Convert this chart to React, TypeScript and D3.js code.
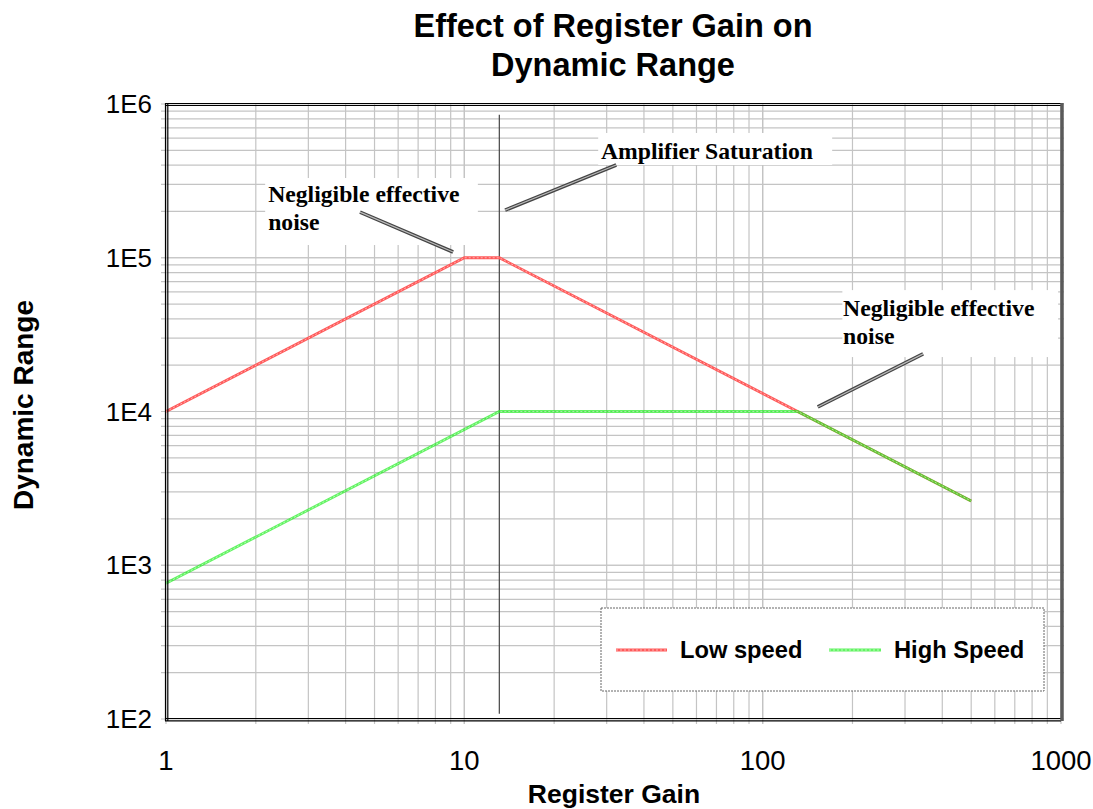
import React from "react";
import * as d3 from "d3";

const W = 1093;
const H = 809;

// Data
const lowSpeedGain = [1, 10, 13.1, 131, 500];
const lowSpeedRange = [10000, 100000, 100000, 10000, 2620];
const highSpeedGain = [1, 13.1, 131, 500];
const highSpeedRange = [763, 10000, 10000, 2620];
const xTickValues = [1, 10, 100, 1000];
const xTickLabels = ["1", "10", "100", "1000"];
const yTickValues = [100, 1000, 10000, 100000, 1000000];
const yTickLabels = ["1E2", "1E3", "1E4", "1E5", "1E6"];
const saturationGain = 13.1;

// Annotations (data coordinates)
const annotationTexts = [
  { lines: ["Negligible effective", "noise"], x: 2.2, y: 230000 },
  { lines: ["Amplifier Saturation"], x: 28.7, y: 439000 },
  { lines: ["Negligible effective", "noise"], x: 186, y: 41800 },
];
const annotationBoxes = [
  { x0: 2.15, x1: 11.1, y0: 330000, y1: 121000 },
  { x0: 28.1, x1: 171, y0: 648000, y1: 401000 },
  { x0: 185, x1: 978, y0: 61600, y1: 22600 },
];
const leaders = [
  { x0: 4.47, y0: 198000, x1: 9.17, y1: 109000 },
  { x0: 13.7, y0: 204000, x1: 32.3, y1: 401000 },
  { x0: 153, y0: 10700, x1: 345, y1: 23700 },
];

const margin = { left: 166, right: W - 1061, top: 104, bottom: H - 719 };

export default function App() {
  const x = d3.scaleLog().domain([1, 1000]).range([margin.left, W - margin.right]);
  const y = d3.scaleLog().domain([100, 1000000]).range([H - margin.bottom, margin.top]);
  const x0 = margin.left;
  const x1 = W - margin.right;
  const y0 = H - margin.bottom;
  const y1 = margin.top;

  const xMinor: number[] = [];
  for (let d = 1; d < 1000; d *= 10) for (let k = 1; k <= 10; k++) xMinor.push(d * k);
  const yMinor: number[] = [];
  for (let d = 100; d < 1000000; d *= 10) for (let k = 1; k <= 10; k++) yMinor.push(d * k);

  const line = d3
    .line<[number, number]>()
    .x((d) => x(d[0]))
    .y((d) => y(d[1]));
  const lowPts = lowSpeedGain.map((g, i) => [g, lowSpeedRange[i]] as [number, number]);
  const highPts = highSpeedGain.map((g, i) => [g, highSpeedRange[i]] as [number, number]);

  const sans = "Arial, 'Liberation Sans', sans-serif";
  const serif = "'Times New Roman', 'Liberation Serif', serif";

  return (
    <svg width={W} height={H} style={{ display: "block", position: "absolute", left: 0, top: 0 }}>
      <rect x={0} y={0} width={W} height={H} fill="#fff" />
      {/* Title */}
      <text x={613} y={37} textAnchor="middle" fontFamily={sans} fontWeight="bold" fontSize={32.5}>
        Effect of Register Gain on
      </text>
      <text x={613} y={76} textAnchor="middle" fontFamily={sans} fontWeight="bold" fontSize={32.5}>
        Dynamic Range
      </text>
      {/* Grid */}
      {xMinor.map((v, i) => (
        <line key={"gx" + i} x1={x(v)} x2={x(v)} y1={y1} y2={y0 + 5} stroke="#c4c4c4" strokeWidth={1.2} />
      ))}
      {yMinor.map((v, i) => (
        <line key={"gy" + i} x1={x0 - 5} x2={x1 + 3} y1={y(v)} y2={y(v)} stroke="#c4c4c4" strokeWidth={1.2} />
      ))}
      {/* Annotation boxes */}
      {annotationBoxes.map((b, i) => (
        <rect
          key={"ab" + i}
          x={x(b.x0)}
          y={y(b.y0)}
          width={x(b.x1) - x(b.x0)}
          height={y(b.y1) - y(b.y0)}
          fill="#fff"
        />
      ))}
      {/* Saturation line */}
      <line
        x1={x(saturationGain)}
        x2={x(saturationGain)}
        y1={y(850000)}
        y2={y(108)}
        stroke="#444"
        strokeWidth={1.2}
      />
      {/* Series */}
      <path d={line(lowPts) || ""} fill="none" stroke="#ff5a5a" strokeWidth={2.8} />
      <path d={line(lowPts) || ""} fill="none" stroke="#ffb0b0" strokeWidth={1} strokeDasharray="2,2" />
      <g opacity={0.7}>
        <path d={line(highPts) || ""} fill="none" stroke="#22ee22" strokeWidth={2.8} />
        <path d={line(highPts) || ""} fill="none" stroke="#99ff99" strokeWidth={1} strokeDasharray="2,2" />
      </g>
      {/* Leader lines */}
      {leaders.map((l, i) => (
        <g key={"ld" + i}>
          <line x1={x(l.x0)} y1={y(l.y0)} x2={x(l.x1)} y2={y(l.y1)} stroke="#444" strokeWidth={3.6} />
          <line x1={x(l.x0)} y1={y(l.y0)} x2={x(l.x1)} y2={y(l.y1)} stroke="#bbb" strokeWidth={1.2} />
        </g>
      ))}
      {/* Annotation text */}
      {annotationTexts.map((a, i) => (
        <text key={"at" + i} x={x(a.x)} y={y(a.y)} fontFamily={serif} fontWeight="bold" fontSize={23.7}>
          {a.lines.map((t, j) => (
            <tspan key={j} x={x(a.x)} dy={j === 0 ? 0 : 28}>
              {t}
            </tspan>
          ))}
        </text>
      ))}
      {/* Frame */}
      <line x1={x0 - 0.5} x2={x0 - 0.5} y1={y1 - 1} y2={y0 + 2} stroke="#000" strokeWidth={1.2} />
      <line x1={x0 + 1.8} x2={x0 + 1.8} y1={y1 - 1} y2={y0 + 2} stroke="#000" strokeWidth={1.2} />
      <line x1={x0 - 1} x2={x1} y1={y0 - 0.5} y2={y0 - 0.5} stroke="#000" strokeWidth={1.2} />
      <line x1={x0 - 1} x2={x1} y1={y0 + 1.8} y2={y0 + 1.8} stroke="#000" strokeWidth={1.2} />
      <line x1={x0 - 1} x2={x1} y1={y1 - 0.5} y2={y1 - 0.5} stroke="#000" strokeWidth={1.2} />
      <line x1={x0 - 1} x2={x1} y1={y1 + 1.5} y2={y1 + 1.5} stroke="#000" strokeWidth={1.2} />
      <line x1={x1 + 1} x2={x1 + 1} y1={y1 - 1} y2={y0 + 2} stroke="#5a5a5a" strokeWidth={3.5} />
      {/* Y tick labels */}
      {yTickValues.map((v, i) => (
        <text
          key={"yl" + i}
          x={152}
          y={y(v) + 9}
          textAnchor="end"
          fontFamily={sans}
          fontSize={26}
        >
          {yTickLabels[i]}
        </text>
      ))}
      {/* X tick labels */}
      {xTickValues.map((v, i) => (
        <text key={"xl" + i} x={x(v)} y={770} textAnchor="middle" fontFamily={sans} fontSize={27.5}>
          {xTickLabels[i]}
        </text>
      ))}
      {/* Axis titles */}
      <text x={614} y={803} textAnchor="middle" fontFamily={sans} fontWeight="bold" fontSize={26.5}>
        Register Gain
      </text>
      <text
        transform={`translate(33,405) rotate(-90)`}
        textAnchor="middle"
        fontFamily={sans}
        fontWeight="bold"
        fontSize={28}
      >
        Dynamic Range
      </text>
      {/* Legend */}
      <rect x={601} y={608} width={443} height={83} fill="#fff" stroke="#666" strokeWidth={1} strokeDasharray="2,1" />
      <line x1={616} x2={667} y1={650} y2={650} stroke="#ff5a5a" strokeWidth={3} />
      <line x1={616} x2={667} y1={650} y2={650} stroke="#ffb0b0" strokeWidth={1} strokeDasharray="2,2" />
      <text x={680} y={658} fontFamily={sans} fontWeight="bold" fontSize={23.7}>
        Low speed
      </text>
      <g opacity={0.7}>
        <line x1={829} x2={881} y1={650} y2={650} stroke="#22ee22" strokeWidth={3} />
        <line x1={829} x2={881} y1={650} y2={650} stroke="#99ff99" strokeWidth={1} strokeDasharray="2,2" />
      </g>
      <text x={894} y={658} fontFamily={sans} fontWeight="bold" fontSize={23.7}>
        High Speed
      </text>
    </svg>
  );
}
